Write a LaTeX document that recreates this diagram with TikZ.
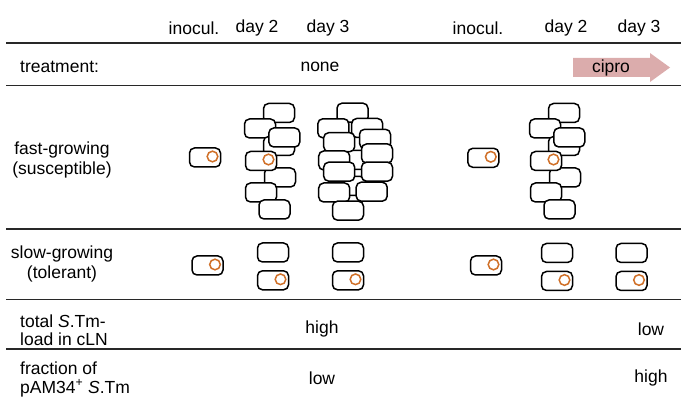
\documentclass[tikz,border=0pt]{standalone}
\usepackage{fontspec}
\setmainfont{Liberation Sans}
\definecolor{rule}{RGB}{40,40,40}
\definecolor{plasmid}{RGB}{208,112,40}
\definecolor{ciprofill}{RGB}{219,172,172}
\begin{document}
\begin{tikzpicture}[x=1pt,y=-1pt,
  every node/.style={font=\fontsize{17.5}{19}\selectfont, inner sep=0pt},
  rowline/.style={draw=rule, line width=1.4pt},
  cell/.style={draw=black, fill=white, line width=1.5pt, rounded corners=5pt,
    minimum width=31pt, minimum height=19pt, inner sep=0pt},
  ring/.style={draw=plasmid, line width=1.5pt},
  lbl/.style={align=center, font=\fontsize{17.5}{19.5}\selectfont},
  lbll/.style={align=left, anchor=west, font=\fontsize{17.5}{17.5}\selectfont},
  pics/fastday2/.style={code={
    \node[cell] (-r1) at (279,113) {};
    \node[cell] (-r2) at (260,128.5) {};
    \node[cell] (-r4) at (279,146) {};
    \node[cell] (-r3) at (284.3,137.5) {};
    \node[cell] (-r6) at (280,177.5) {};
    \node[cell] (-r5) at (261,161) {};
    \draw[ring] (268.5,159.5) circle (5.3pt);
    \node[cell] (-r7) at (261,192.5) {};
    \node[cell] (-r8) at (274.5,209.5) {};
  }},
  pics/pcell/.style={code={
    \node[cell] (-c) at (0,0) {};
    \draw[ring] (7.5,-1) circle (5.3pt);
  }}
]
\useasboundingbox (0,0) rectangle (681,406);

% header
\node (h1) at (194,28) {inocul.};
\node (h2) at (257,28) {day 2};
\node (h3) at (328,28) {day 3};
\node (h4) at (478,28) {inocul.};
\node (h5) at (566,28) {day 2};
\node (h6) at (639,28) {day 3};

% row separators
\draw[rowline] (6,43) -- (681,43);
\draw[rowline] (6,85.5) -- (681,85.5);
\draw[rowline] (6,229) -- (681,229);
\draw[rowline] (6,299.5) -- (681,299.5);
\draw[rowline] (6,349) -- (681,349);

% treatment row
\node[anchor=west] (treat) at (20,67) {treatment:};
\node (none) at (320,67) {none};
\fill[ciprofill] (573,58) -- (650,58) -- (650,53) -- (670,67.5) -- (650,82) -- (650,77) -- (573,77) -- cycle;
\node (cipro) at (611,67.5) {cipro};

% fast-growing row
\node[lbl] (fast) at (62,160) {fast-growing\\(susceptible)};
\pic (fi1) at (205,157.5) {pcell};
\pic (fd2) at (0,0) {fastday2};
\begin{scope}
  % day 3, dense cluster
  \node[cell] (g1) at (355,160) {};
  \node[cell] (g2) at (350,186) {};
  \node[cell] (t1) at (352.5,112.7) {};
  \node[cell] (l1) at (333.3,128.3) {};
  \node[cell] (q1) at (367.2,128) {};
  \node[cell] (l2) at (339.2,142.2) {};
  \node[cell] (q2) at (375,138.8) {};
  \node[cell] (q3) at (377,153.5) {};
  \node[cell] (l3) at (334.2,160.5) {};
  \node[cell] (l4) at (339.2,171.7) {};
  \node[cell] (q4) at (377,171.7) {};
  \node[cell] (l5) at (334.2,192.5) {};
  \node[cell] (q5) at (371.7,191.7) {};
  \node[cell] (b1) at (348,210.7) {};
\end{scope}
\pic (fi2) at (483.3,157.8) {pcell};
\begin{scope}[xshift=285pt]
  \pic (fc2) at (0,0) {fastday2};
\end{scope}

% slow-growing row
\node[lbl] (slow) at (62,264) {slow-growing\\(tolerant)};
\pic (si1) at (207.5,265.5) {pcell};
\node[cell] (sa2) at (273,252.5) {};
\pic (sb2) at (273,280.3) {pcell};
\node[cell] (sa3) at (348,252.5) {};
\pic (sb3) at (348,280.3) {pcell};
\pic (si2) at (486,265.5) {pcell};
\node[cell] (sc2) at (557,253) {};
\pic (sd2) at (557,281) {pcell};
\node[cell] (sc3) at (631.5,253) {};
\pic (sd3) at (631.5,281) {pcell};

% summary rows
\node[lbll] (load) at (20,330) {total \textit{S}.Tm-\\load in cLN};
\node (hi1) at (322,329) {high};
\node (lo1) at (651,329) {low};
\node[lbll, font=\fontsize{17.5}{19}\selectfont] (frac) at (20,379) {fraction of\\pAM34\textsuperscript{+} \textit{S}.Tm};
\node (lo2) at (322,378) {low};
\node (hi2) at (651,378) {high};
\end{tikzpicture}
\end{document}
